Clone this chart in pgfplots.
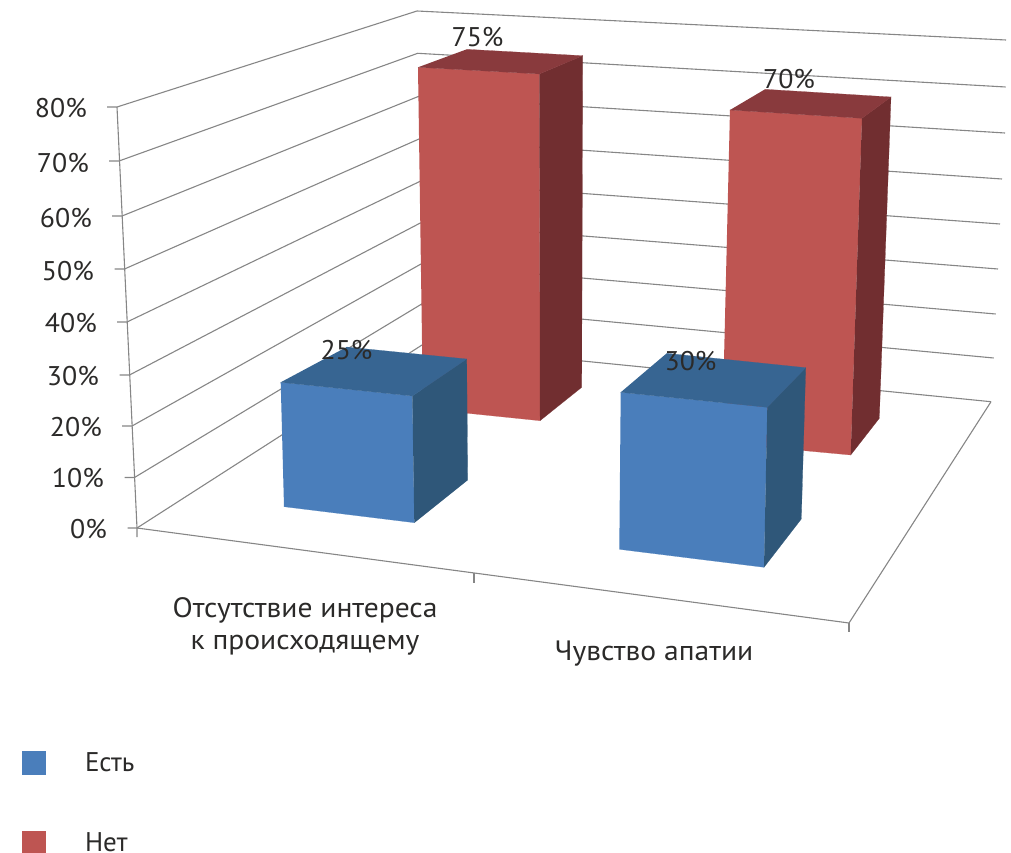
\documentclass[border=0pt]{standalone}
\usepackage{fontspec}
\usepackage{pgfplots}
\pgfplotsset{compat=1.18}
\setmainfont{PT Sans}

\definecolor{gridgray}{HTML}{868686}
\definecolor{labeltext}{HTML}{2B2A29}
\definecolor{blueFront}{HTML}{4A7EBB}
\definecolor{blueTop}{HTML}{376592}
\definecolor{blueSide}{HTML}{2F5779}
\definecolor{redFront}{HTML}{BE5552}
\definecolor{redTop}{HTML}{893A3D}
\definecolor{redSide}{HTML}{712E30}

% Every corner of a column is stored as its foot on the floor (x0,y0), the shift
% per percentage point (sx,sy) under the perspective, and the value v it stands at.
\pgfplotsset{
  /pgfplots/table/corner/.style={
    x expr=\thisrow{x0}+\thisrow{v}*\thisrow{sx},
    y expr=\thisrow{y0}+\thisrow{v}*\thisrow{sy}},
  face/.style={fill=#1,draw=#1,line width=0.2pt,forget plot},
  grid line/.style={gridgray,line width=1.1pt,forget plot},
}
\newcommand{\lbl}[3]{\node[anchor=#1,text=labeltext,font=\fontsize{27}{32}\selectfont\addfontfeature{FakeStretch=1.03},inner sep=0pt] at (axis cs:#2) {#3};}
\newcommand{\catlbl}[2]{\node[anchor=center,text=labeltext,font=\fontsize{28}{33}\selectfont\addfontfeature{FakeStretch=1.055},inner sep=0pt] at (axis cs:#1) {#2};}

\begin{document}
\begin{tikzpicture}[x=1pt,y=1pt]
\useasboundingbox (0,0) rectangle (1011,853);
\begin{axis}[
  at={(0,0)},anchor=south west,
  scale only axis,width=1011pt,height=853pt,
  xmin=0,xmax=1011,ymin=0,ymax=853,y dir=reverse,
  hide axis,clip=false,
  legend style={at={(axis cs:22,751)},anchor=north west,draw=none,fill=none,
    inner sep=0pt,outer sep=0pt,row sep=56pt,
    nodes={inner sep=0pt,text=labeltext,font=\fontsize{27}{32}\selectfont}},
  legend cell align=left,
  legend image code/.code={\fill[draw=none,#1] (0pt,-12pt) rectangle (24pt,12pt);\path[draw=none,fill=none] (0pt,0pt) -- (63pt,0pt);},
]
% walls: one polyline per percentage level, left end, back corner, right end
\addplot[grid line] coordinates {(107,107)(117,107)(417,11)(1006,40)};
\addplot[grid line] coordinates {(109,161)(119,161)(417.7,53.3)(1005.7,87)};
\addplot[grid line] coordinates {(112,216)(122,216)(418.3,96.5)(1005,133)};
\addplot[grid line] coordinates {(114.5,269)(124.5,269)(419,139)(1002,179)};
\addplot[grid line] coordinates {(117,322)(127,322)(419.7,181.5)(1000,224)};
\addplot[grid line] coordinates {(119.5,375)(129.5,375)(420.3,223)(998,269)};
\addplot[grid line] coordinates {(122,426)(132,426)(421,264)(995.7,314)};
\addplot[grid line] coordinates {(124.5,477.5)(134.5,477.5)(421.7,304)(993.7,358)};
\addplot[grid line] coordinates {(127.5,528)(137,528)(422,345)(991,401.7)};
% value axis, floor front edge and category ticks
\addplot[grid line] coordinates {(117,107)(137,528)(137,537)};
\addplot[grid line] coordinates {(137,528)(849,623)(991,401.7)};
\addplot[grid line] coordinates {(474,573)(474,583)};
\addplot[grid line] coordinates {(849,623)(849,632)};

% Нет, Отсутствие интереса к происходящему: 75
\addplot[face=redFront] table[corner]{
x0 y0 sx sy v
423 408.7 -0.0667 -4.552 0
540 420.7 -0.0093 -4.623 0
540 420.7 -0.0093 -4.623 75
423 408.7 -0.0667 -4.552 75
};
\addplot[face=redSide] table[corner]{
x0 y0 sx sy v
540 420.7 -0.0093 -4.623 0
581.7 387.3 0.0133 -4.421 0
581.7 387.3 0.0133 -4.421 75
540 420.7 -0.0093 -4.623 75
};
\addplot[face=redTop] table[corner]{
x0 y0 sx sy v
423 408.7 -0.0667 -4.552 75
540 420.7 -0.0093 -4.623 75
581.7 387.3 0.0133 -4.421 75
469 377.8 -0.03 -4.38 75
};
% Нет, Чувство апатии: 70
\addplot[face=redFront] table[corner]{
x0 y0 sx sy v
722 443 0.114 -4.757 0
850.7 455 0.161 -4.81 0
850.7 455 0.161 -4.81 70
722 443 0.114 -4.757 70
};
\addplot[face=redSide] table[corner]{
x0 y0 sx sy v
850.7 455 0.161 -4.81 0
879.3 418.3 0.167 -4.59 0
879.3 418.3 0.167 -4.59 70
850.7 455 0.161 -4.81 70
};
\addplot[face=redTop] table[corner]{
x0 y0 sx sy v
722 443 0.114 -4.757 70
850.7 455 0.161 -4.81 70
879.3 418.3 0.167 -4.59 70
755.9 404.3 0.13 -4.5 70
};
% Есть, Отсутствие интереса к происходящему: 25
\addplot[face=blueFront] table[corner]{
x0 y0 sx sy v
284 506.7 -0.132 -4.976 0
414.3 522.7 -0.08 -5.068 0
414.3 522.7 -0.08 -5.068 25
284 506.7 -0.132 -4.976 25
};
\addplot[face=blueSide] table[corner]{
x0 y0 sx sy v
414.3 522.7 -0.08 -5.068 0
467.7 480 -0.04 -4.84 0
467.7 480 -0.04 -4.84 25
414.3 522.7 -0.08 -5.068 25
};
\addplot[face=blueTop] table[corner]{
x0 y0 sx sy v
284 506.7 -0.132 -4.976 25
414.3 522.7 -0.08 -5.068 25
467.7 480 -0.04 -4.84 25
348.7 465.75 -0.08 -4.75 25
};
% Есть, Чувство апатии: 30
\addplot[face=blueFront] table[corner]{
x0 y0 sx sy v
619.3 549.3 0.047 -5.233 0
764 567.3 0.11 -5.333 0
764 567.3 0.11 -5.333 30
619.3 549.3 0.047 -5.233 30
};
\addplot[face=blueSide] table[corner]{
x0 y0 sx sy v
764 567.3 0.11 -5.333 0
801.3 519 0.147 -5.043 0
801.3 519 0.147 -5.043 30
764 567.3 0.11 -5.333 30
};
\addplot[face=blueTop] table[corner]{
x0 y0 sx sy v
619.3 549.3 0.047 -5.233 30
764 567.3 0.11 -5.333 30
801.3 519 0.147 -5.043 30
664.3 501.8 0.08 -4.95 30
};

% value labels
\lbl{center}{477.5,37}{75\%}
\lbl{center}{789,79}{70\%}
\lbl{center}{346.5,350}{25\%}
\lbl{center}{690.5,361}{30\%}
% percentage scale
\lbl{east}{87,108}{80\%}
\lbl{east}{89,163}{70\%}
\lbl{east}{92,218}{60\%}
\lbl{east}{94,271}{50\%}
\lbl{east}{97,323}{40\%}
\lbl{east}{99,376}{30\%}
\lbl{east}{102,427}{20\%}
\lbl{east}{104,478}{10\%}
\lbl{east}{107,529}{0\%}
% categories
\catlbl{305,610}{Отсутствие интереса}
\catlbl{305,645}{к происходящему}
\catlbl{654,654}{Чувство апатии}

\addlegendimage{draw=none,fill=blueFront}
\addlegendentry{Есть}
\addlegendimage{draw=none,fill=redFront}
\addlegendentry{Нет}
\end{axis}
\end{tikzpicture}
\end{document}
